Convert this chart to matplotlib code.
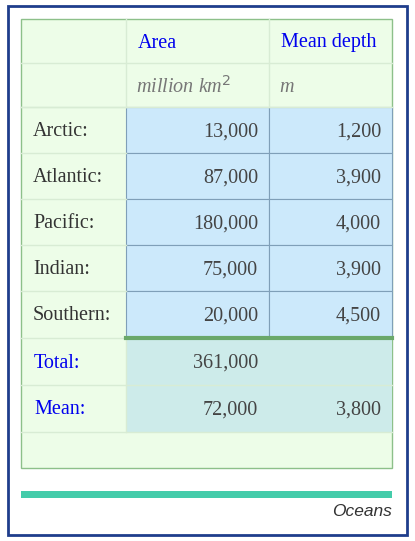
import matplotlib.pyplot as plt
from matplotlib.patches import Rectangle

oceans = ['Arctic:', 'Atlantic:', 'Pacific:', 'Indian:', 'Southern:']
area = ['13,000', '87,000', '180,000', '75,000', '20,000']
depth = ['1,200', '3,900', '4,000', '3,900', '4,500']
headers = ['Area', 'Mean depth']
units = ['million km$^2$', 'm']
summary_labels = ['Total:', 'Mean:']
summary_area = ['361,000', '72,000']
summary_depth = ['', '3,800']

fig = plt.figure(figsize=(4.15, 5.41), dpi=100)
ax = fig.add_axes([0, 0, 1, 1])
ax.set_xlim(0, 415)
ax.set_ylim(541, 0)
ax.axis('off')

# outer frame
ax.add_patch(Rectangle((8, 6), 399, 529, fill=False, ec='#1f3d8c', lw=2))
# table background
ax.add_patch(Rectangle((21, 19), 371, 449, fc='#edfde8', ec='#8dc08a', lw=1))

cols = [21, 126, 269, 392]
row_h = 46
y0 = 19
dy = 2
font = dict(family='Liberation Serif', fontsize=14.5)

# header rows
for j, h in enumerate(headers):
    ax.text(cols[j + 1] + 12, y0 + 22 + dy, h, color='#0000ee', va='center', **font)
for j, u in enumerate(units):
    ax.text(cols[j + 1] + 10, y0 + 22 + 44 + dy, u, color='#777777', va='center', style='italic', **font)
ax.plot([21, 392], [63, 63], color='#d8ecd4', lw=1)
ax.plot([21, 392], [107, 107], color='#d8ecd4', lw=1)
for x in cols[1:3]:
    ax.plot([x, x], [19, 107], color='#d8ecd4', lw=1)

# data rows
ytop = 107
for i, name in enumerate(oceans):
    y = ytop + i * row_h
    ax.plot([21, 126], [y, y], color='#d8ecd4', lw=1)
    for j in range(2):
        ax.add_patch(Rectangle((cols[j + 1], y), cols[j + 2] - cols[j + 1], row_h,
                               fc='#cce9fb', ec='#7f9fb8', lw=0.8))
    ax.text(cols[0] + 12, y + row_h / 2 + dy, name, color='#333333', va='center', **font)
    ax.text(cols[2] - 11, y + row_h / 2 + dy, area[i], color='#444444', va='center', ha='right', **font)
    ax.text(cols[3] - 11, y + row_h / 2 + dy, depth[i], color='#444444', va='center', ha='right', **font)

# summary rows
ys = ytop + len(oceans) * row_h + 1
for i, lab in enumerate(summary_labels):
    y = ys + i * 47
    ax.plot([21, 392], [y, y], color='#d8ecd4', lw=1)
    ax.add_patch(Rectangle((cols[1], y), cols[3] - cols[1], 47, fc='#cdebea', ec='none'))
    ax.text(cols[0] + 13, y + 23 + dy, lab, color='#0000ee', va='center', **font)
    ax.text(cols[2] - 11, y + 23 + dy, summary_area[i], color='#444444', va='center', ha='right', **font)
    ax.text(cols[3] - 11, y + 23 + dy, summary_depth[i], color='#444444', va='center', ha='right', **font)
ax.plot([21, 392], [ys + 94, ys + 94], color='#d8ecd4', lw=1)
ax.plot([126, 126], [ys, ys + 94], color='#d8ecd4', lw=1)
ax.plot([126, 392], [ys, ys], color='#6aa86a', lw=3)

# caption bar
ax.add_patch(Rectangle((21, 491), 371, 7, fc='#44ccaa', ec='none'))
ax.text(392, 511, 'Oceans', ha='right', va='center', style='italic',
        family='Liberation Sans', fontsize=12.5, color='#333333')

fig.savefig('out.png', dpi=100)
